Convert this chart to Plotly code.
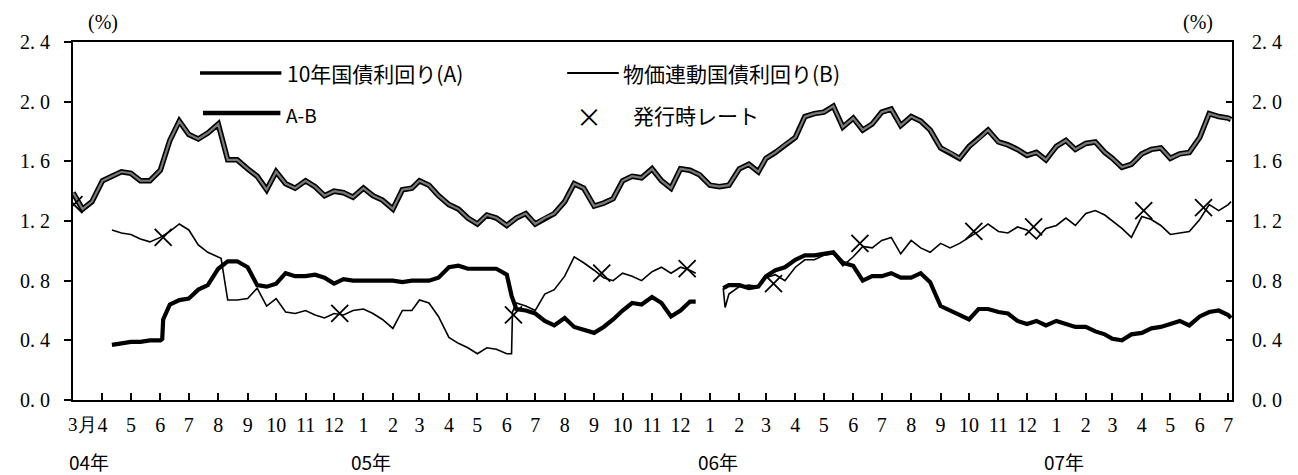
import pandas as pd
import plotly.graph_objects as go

# ---------------- data ----------------
def grid(start, end):
    """dates on the 1st, 11th and 21st of each month between start and end"""
    out = []
    for m in pd.date_range(pd.Timestamp(start).replace(day=1), end, freq="MS"):
        for d in (1, 11, 21):
            t = m.replace(day=d)
            if pd.Timestamp(start) <= t <= pd.Timestamp(end):
                out.append(t)
    return out

# 10年国債利回り (A)
a_dates = grid("2004-03-01", "2007-07-01") + [pd.Timestamp("2007-07-04")]
a_vals = [
    1.39, 1.28, 1.33,  1.47, 1.50, 1.53,  1.52, 1.47, 1.47,  1.54, 1.74, 1.87,
    1.78, 1.75, 1.79,  1.85, 1.61, 1.61,  1.55, 1.50, 1.41,  1.53, 1.45, 1.42,
    1.47, 1.43, 1.37,  1.40, 1.39, 1.36,
    1.42, 1.37, 1.34,  1.28, 1.41, 1.42,  1.47, 1.44, 1.37,  1.31, 1.28, 1.22,
    1.18, 1.24, 1.22,  1.17, 1.22, 1.25,  1.18, 1.22, 1.25,  1.33, 1.45, 1.42,
    1.30, 1.32, 1.35,  1.47, 1.50, 1.49,  1.55, 1.47, 1.42,  1.55, 1.54, 1.51,
    1.44, 1.43, 1.44,  1.55, 1.58, 1.53,  1.62, 1.66, 1.71,  1.76, 1.90, 1.92,
    1.93, 1.97, 1.83,  1.89, 1.81, 1.85,  1.93, 1.95, 1.84,  1.90, 1.87, 1.81,
    1.69, 1.66, 1.62,  1.70, 1.75, 1.81,  1.73, 1.71, 1.68,  1.64, 1.66, 1.61,
    1.70, 1.74, 1.68,  1.72, 1.73, 1.66,  1.62, 1.56, 1.58,  1.65, 1.68, 1.69,
    1.62, 1.65, 1.66,  1.76, 1.92, 1.90,
    1.89, 1.88,
]

# 物価連動国債利回り (B)
b1_dates = grid("2004-04-11", "2005-12-11")
b1_vals = [
    1.14, 1.12,  1.11, 1.08, 1.06,  1.09, 1.13, 1.18,  1.14, 1.04, 0.99,
    0.96, 0.67, 0.67,  0.68, 0.75, 0.63,  0.68, 0.59, 0.58,  0.60, 0.57, 0.55,
    0.58, 0.57, 0.60,
    0.61, 0.58, 0.54,  0.48, 0.60, 0.60,  0.67, 0.65, 0.56,  0.42, 0.38, 0.35,
    0.31, 0.35, 0.34,  0.31, 0.65, 0.63,  0.60, 0.71, 0.74,  0.83, 0.96, 0.92,
    0.87, 0.82, 0.80,  0.85, 0.83, 0.80,  0.86, 0.89, 0.85,  0.89, 0.87,
]
b1_extra_dates = ["2004-08-04", "2005-06-06", "2005-06-07", "2005-12-17"]
b1_extra_vals = [0.95, 0.31, 0.59, 0.85]

b2_dates = grid("2006-01-21", "2007-07-01")
b2_vals = [
    0.71,  0.76, 0.77, 0.76,  0.82, 0.84, 0.80,  0.89, 0.94, 0.94,
    0.97, 0.98, 0.90,  0.96, 1.03, 1.02,  1.07, 1.09, 0.98,  1.07, 1.02, 0.99,
    1.05, 1.02, 1.05,  1.09, 1.13, 1.18,  1.13, 1.12, 1.16,  1.14, 1.08, 1.15,
    1.17, 1.22, 1.17,  1.25, 1.27, 1.24,  1.20, 1.15, 1.09,  1.23, 1.21, 1.17,
    1.11, 1.12, 1.13,  1.21, 1.31, 1.27,
    1.31,
]
b2_extra_dates = ["2006-01-15", "2006-01-17", "2007-07-04"]
b2_extra_vals = [0.75, 0.62, 1.33]

# A-B
ab1_dates = grid("2004-04-11", "2005-12-11")
ab1_vals = [
    0.37, 0.38,  0.39, 0.39, 0.40,  0.40, 0.64, 0.67,  0.68, 0.74, 0.77,
    0.88, 0.93, 0.93,  0.89, 0.77, 0.76,  0.78, 0.85, 0.83,  0.83, 0.84, 0.82,
    0.78, 0.81, 0.80,
    0.80, 0.80, 0.80,  0.80, 0.79, 0.80,  0.80, 0.80, 0.82,  0.89, 0.90, 0.88,
    0.88, 0.88, 0.88,  0.84, 0.61, 0.60,  0.58, 0.53, 0.50,  0.55, 0.49, 0.47,
    0.45, 0.49, 0.54,  0.60, 0.65, 0.64,  0.69, 0.65, 0.56,  0.60, 0.66,
]
ab1_extra_dates = ["2004-06-03", "2004-06-04", "2005-06-06", "2005-12-17"]
ab1_extra_vals = [0.41, 0.54, 0.70, 0.66]

ab2_dates = grid("2006-01-21", "2007-07-01")
ab2_vals = [
    0.77,  0.77, 0.75, 0.76,  0.83, 0.87, 0.89,  0.94, 0.97, 0.97,
    0.98, 0.99, 0.92,  0.90, 0.80, 0.83,  0.83, 0.85, 0.82,  0.82, 0.85, 0.79,
    0.63, 0.60, 0.57,  0.54, 0.61, 0.61,  0.59, 0.58, 0.53,  0.51, 0.53, 0.50,
    0.53, 0.51, 0.49,  0.49, 0.46, 0.44,  0.41, 0.40, 0.44,  0.45, 0.48, 0.49,
    0.51, 0.53, 0.50,  0.56, 0.59, 0.60,
    0.57,
]
ab2_extra_dates = ["2006-01-15", "2007-07-04"]
ab2_extra_vals = [0.75, 0.55]

# 発行時レート
issue_dates = ["2004-03-02", "2004-06-04", "2004-12-07", "2005-06-08", "2005-09-09",
               "2005-12-08", "2006-03-09", "2006-06-08", "2006-10-06", "2006-12-08",
               "2007-04-03", "2007-06-05"]
issue_vals = [1.31, 1.09, 0.58, 0.57, 0.85, 0.88, 0.78, 1.05, 1.13, 1.16, 1.27, 1.29]

y_ticks = [0.0, 0.4, 0.8, 1.2, 1.6, 2.0, 2.4]
y_ticktext = ["0. 0", "0. 4", "0. 8", "1. 2", "1. 6", "2. 0", "2. 4"]
month_ticks = pd.date_range("2004-03-01", "2007-07-01", freq="MS")
month_text = ["" if (t.year == 2004 and t.month == 3) else str(t.month) for t in month_ticks]
year_labels = ["04年", "05年", "06年", "07年"]
year_pos = ["2004-03-18", "2005-01-09", "2006-01-10", "2007-01-09"]


def series(dates, vals, extra_dates=(), extra_vals=()):
    s = pd.Series(list(vals) + list(extra_vals),
                  index=list(pd.to_datetime(dates)) + list(pd.to_datetime(list(extra_dates))))
    return s.sort_index()


A = series(a_dates, a_vals)
B1 = series(b1_dates, b1_vals, b1_extra_dates, b1_extra_vals)
B2 = series(b2_dates, b2_vals, b2_extra_dates, b2_extra_vals)
AB1 = series(ab1_dates, ab1_vals, ab1_extra_dates, ab1_extra_vals)
AB2 = series(ab2_dates, ab2_vals, ab2_extra_dates, ab2_extra_vals)

# ---------------- figure ----------------
# page body has an 8px margin: figure is 8px smaller so that everything lands on the window
OFF = 8
W, H = 1298 - OFF, 475 - OFF
L, R, T, Bm = 64 - OFF, 66, 42 - OFF, 75
PW, PH = W - L - R, H - T - Bm          # 1168 x 358
PLOT_L, PLOT_B = 64, 400                 # plot area in window pixels

fig = go.Figure()

# A: stippled thick line -> dark outline + grey core
fig.add_trace(go.Scatter(x=A.index, y=A.values, mode="lines",
                         line=dict(color="black", width=5.5), showlegend=False, hoverinfo="skip"))
fig.add_trace(go.Scatter(x=A.index, y=A.values, mode="lines",
                         line=dict(color="#7a7a7a", width=2.2), showlegend=False))
for s in (B1, B2):
    fig.add_trace(go.Scatter(x=s.index, y=s.values, mode="lines",
                             line=dict(color="black", width=1.6), showlegend=False))
for s in (AB1, AB2):
    fig.add_trace(go.Scatter(x=s.index, y=s.values, mode="lines",
                             line=dict(color="black", width=4.2), showlegend=False))
fig.add_trace(go.Scatter(x=pd.to_datetime(issue_dates), y=issue_vals, mode="markers",
                         marker=dict(symbol="x-thin", size=17, line=dict(color="black", width=1.8)),
                         showlegend=False))
# invisible trace to activate the right axis
fig.add_trace(go.Scatter(x=[pd.Timestamp("2004-03-01")], y=[None], yaxis="y2", showlegend=False))

num_font = dict(family="Liberation Serif", size=20, color="black")
fig.update_layout(
    width=W, height=H,
    margin=dict(l=L, r=R, t=T, b=Bm),
    paper_bgcolor="white", plot_bgcolor="white",
    showlegend=False,
    xaxis=dict(range=["2004-03-01", "2007-07-05"], tickmode="array",
               tickvals=list(month_ticks), ticktext=month_text,
               ticks="inside", ticklen=7, tickwidth=1.5, tickcolor="black",
               showline=True, linecolor="black", linewidth=2, mirror=True,
               showgrid=False, zeroline=False, tickangle=0,
               tickfont=dict(family="Liberation Serif", size=20, color="black"),
               ticklabelstandoff=6),
    yaxis=dict(range=[0, 2.4], tickmode="array", tickvals=y_ticks, ticktext=y_ticktext,
               ticks="outside", ticklen=7, tickwidth=1.5, tickcolor="black",
               showline=True, linecolor="black", linewidth=2,
               showgrid=False, zeroline=False, tickfont=num_font, ticklabelstandoff=10),
    yaxis2=dict(range=[0, 2.4], tickmode="array", tickvals=y_ticks, ticktext=y_ticktext,
                overlaying="y", side="right",
                ticks="inside", ticklen=6, tickwidth=1.5, tickcolor="black",
                showline=True, linecolor="black", linewidth=2,
                showgrid=False, zeroline=False, tickfont=num_font, ticklabelstandoff=14),
)


def px_x(px):
    return (px - PLOT_L) / PW


def px_y(py):
    return (PLOT_B - py) / PH


ann_font = dict(family="Noto Sans CJK JP", size=21, color="black")
serif20 = dict(family="Liberation Serif", size=20, color="black")
anns = [
    dict(text="(%)", x=px_x(94), y=px_y(23), xanchor="center", yanchor="middle", font=serif20),
    dict(text="(%)", x=px_x(1198), y=px_y(23), xanchor="center", yanchor="middle", font=serif20),
    dict(text="3月", x=px_x(57), y=px_y(424), xanchor="left", yanchor="middle",
         font=dict(family="Liberation Serif", size=19, color="black")),
    dict(text="10年国債利回り(A)", x=px_x(278), y=px_y(73), xanchor="left", yanchor="middle", font=ann_font),
    dict(text="物価連動国債利回り(B)", x=px_x(616), y=px_y(73), xanchor="left", yanchor="middle", font=ann_font),
    dict(text="A-B", x=px_x(277), y=px_y(114), xanchor="left", yanchor="middle",
         font=dict(family="Noto Sans CJK JP", size=19, color="black")),
    dict(text="×", x=px_x(584), y=px_y(116), xanchor="center", yanchor="middle",
         font=dict(family="Noto Sans CJK JP", size=26, color="black")),
    dict(text="発行時レート", x=px_x(626), y=px_y(115), xanchor="left", yanchor="middle", font=ann_font),
]
for lab, pos in zip(year_labels, year_pos):
    anns.append(dict(text=lab, x=pd.Timestamp(pos), xref="x", y=px_y(461), yref="paper",
                     xanchor="center", yanchor="middle",
                     font=dict(family="Noto Sans CJK JP", size=19, color="black")))
for a in anns:
    a.setdefault("xref", "paper")
    a.setdefault("yref", "paper")
    a["showarrow"] = False
fig.update_layout(annotations=anns)

shapes = [
    dict(type="line", x0=px_x(192), x1=px_x(274), y0=px_y(73), y1=px_y(73),
         line=dict(color="black", width=3.5)),
    dict(type="line", x0=px_x(562), x1=px_x(614), y0=px_y(73), y1=px_y(73),
         line=dict(color="black", width=1.8)),
    dict(type="line", x0=px_x(195), x1=px_x(273), y0=px_y(113), y1=px_y(113),
         line=dict(color="black", width=4.5)),
]
for s in shapes:
    s["xref"] = "paper"
    s["yref"] = "paper"
fig.update_layout(shapes=shapes)

fig.write_html("out.html")
